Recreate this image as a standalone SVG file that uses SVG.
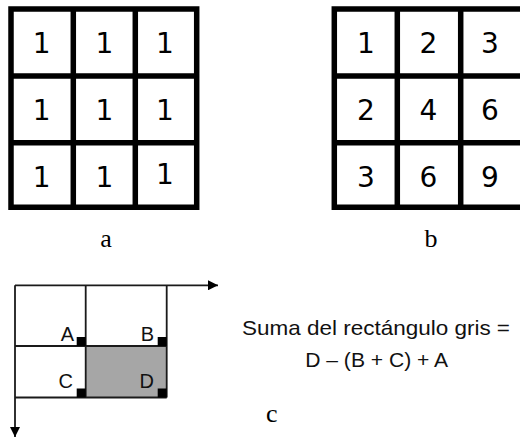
<svg xmlns="http://www.w3.org/2000/svg" width="520" height="439" viewBox="0 0 520 439">
<style>
.grid{fill:none;stroke:#000;stroke-width:5.5}
.num{font-family:"DejaVu Sans",sans-serif;font-size:28px;fill:#000;text-anchor:middle}
.cap{font-family:"Liberation Serif",serif;font-size:26px;fill:#000;text-anchor:middle}
.thin{fill:none;stroke:#1a1a1a;stroke-width:1.8}
.lbl{font-family:"Liberation Sans",sans-serif;font-size:20px;fill:#111}
.frm{font-family:"Liberation Sans",sans-serif;font-size:21px;fill:#111;text-anchor:middle}
.mk{fill:#000}
</style>
<defs>
<marker id="arr" viewBox="0 0 10 10" refX="10" refY="5" markerWidth="11" markerHeight="10" markerUnits="userSpaceOnUse" orient="auto">
<path d="M0,0 L10,5 L0,10 Z" fill="#000"/>
</marker>
</defs>
<rect width="520" height="439" fill="#fff"/>

<g id="grid-a">
<path class="grid" d="M11,9 H196.7 V207.3 H11 Z M73.3,9 V207.3 M135.3,9 V207.3 M11,76 H196.7 M11,142.7 H196.7"/>
<text class="num" x="41.7" y="53.3">1</text>
<text class="num" x="104.3" y="53.3">1</text>
<text class="num" x="165" y="53.3">1</text>
<text class="num" x="41.7" y="120">1</text>
<text class="num" x="104.3" y="120">1</text>
<text class="num" x="165" y="120">1</text>
<text class="num" x="41.7" y="186.7">1</text>
<text class="num" x="104.3" y="186.7">1</text>
<text class="num" x="165" y="184">1</text>
</g>
<text id="label-a" class="cap" x="106" y="246.5">a</text>

<g id="grid-b">
<path class="grid" d="M334.3,9 H524 V207.3 H334.3 Z M397.3,9 V207.3 M460.7,9 V207.3 M334.3,76 H524 M334.3,142.7 H524"/>
<text class="num" x="366" y="53.3">1</text>
<text class="num" x="428.3" y="53.3">2</text>
<text class="num" x="490" y="53.3">3</text>
<text class="num" x="366" y="120">2</text>
<text class="num" x="428.3" y="120">4</text>
<text class="num" x="490" y="120">6</text>
<text class="num" x="366" y="186.7">3</text>
<text class="num" x="428.3" y="186.7">6</text>
<text class="num" x="490" y="186.7">9</text>
</g>
<text id="label-b" class="cap" x="431" y="246.5">b</text>

<g id="diagram-c">
<rect x="85.7" y="346" width="81" height="51.5" fill="#a6a6a6"/>
<path class="thin" d="M85.7,285.3 V397.5 M166.7,285.3 V397.5 M15,346 H166.7 M15,397.5 H166.7"/>
<rect class="mk" x="76.7" y="337" width="9" height="9"/>
<rect class="mk" x="157.7" y="337" width="9" height="9"/>
<rect class="mk" x="76.7" y="388.5" width="9" height="9"/>
<rect class="mk" x="157.7" y="388.5" width="9" height="9"/>
<text class="lbl" x="74" y="340.5" text-anchor="end">A</text>
<text class="lbl" x="154" y="340.5" text-anchor="end">B</text>
<text class="lbl" x="73" y="388" text-anchor="end">C</text>
<text class="lbl" x="154" y="388" text-anchor="end">D</text>
</g>
<g id="connectors">
<path class="thin" d="M15,285.3 H218" marker-end="url(#arr)"/>
<path class="thin" d="M15,285.3 V437" marker-end="url(#arr)"/>
</g>

<g id="formula">
<text class="frm" x="376" y="335" textLength="268" lengthAdjust="spacingAndGlyphs">Suma del rectángulo gris =</text>
<text class="frm" x="376.7" y="366.7" textLength="143" lengthAdjust="spacingAndGlyphs">D – (B + C) + A</text>
</g>
<text id="label-c" class="cap" x="271.7" y="421.7">c</text>
</svg>
